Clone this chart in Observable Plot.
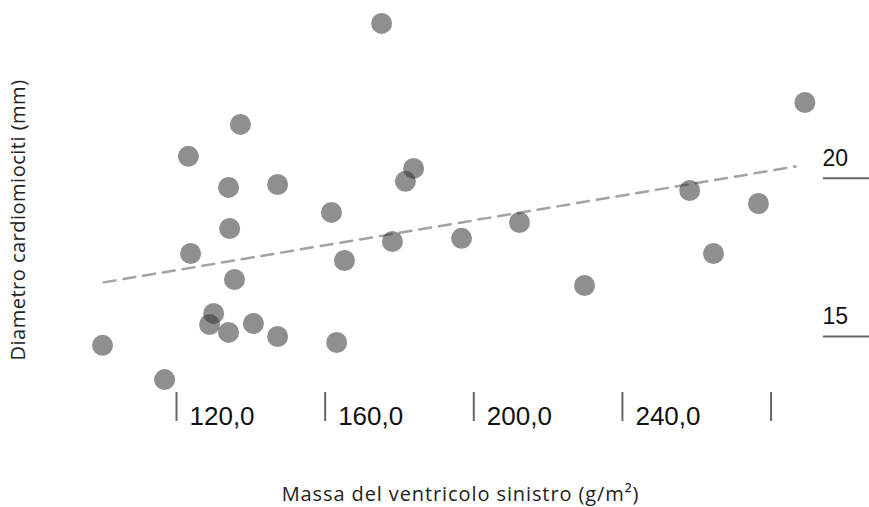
<!DOCTYPE html>
<html>
<head>
<meta charset="utf-8">
<script src="https://cdn.jsdelivr.net/npm/d3@7"></script>
<script src="https://cdn.jsdelivr.net/npm/@observablehq/plot@0.6"></script>
<style>
  html, body { margin: 0; padding: 0; background: #fff; }
  #chart { width: 869px; height: 507px; }
</style>
</head>
<body>
<div id="chart"></div>
<script>
// Data
const massX = [100.1, 116.8, 123.2, 123.8, 128.9, 130.0, 134.0, 134.0, 134.3, 135.6, 137.2, 140.7, 147.2, 147.2,
               161.7, 163.1, 165.2, 175.2, 178.1, 181.6, 183.8, 196.7, 212.3, 229.8, 258.1, 264.5, 276.6, 289.1];
const diamY = [14.72, 13.64, 20.69, 17.62, 15.38, 15.73, 15.13, 19.71, 18.41, 16.80, 21.70, 15.41, 19.80, 15.00,
               18.92, 14.81, 17.40, 24.89, 18.00, 19.90, 20.31, 18.10, 18.60, 16.61, 19.61, 17.62, 19.20, 22.39];
const trendX = [100.4, 286.6];
const trendY = [16.71, 20.37];
const xTicks = [120, 160, 200, 240, 280];
const xTickLabels = ["120,0", "160,0", "200,0", "240,0", ""];
const yTicks = [15, 20];
const yTickLabels = ["15", "20"];
const xTitle = "Massa del ventricolo sinistro (g/m²)";
const yTitle = "Diametro cardiomiociti (mm)";

const points = massX.map((x, i) => ({x, y: diamY[i]}));
const trend = trendX.map((x, i) => ({x, y: trendY[i]}));

const chart = Plot.plot({
  width: 869,
  height: 507,
  marginLeft: 40,
  marginRight: 47,
  marginTop: 5,
  marginBottom: 115,
  style: {fontFamily: "'Liberation Sans', Arial, sans-serif", background: "#fff"},
  x: {domain: [83.40, 293.84]},
  y: {domain: [13.231, 25.455]},
  marks: [
    // x tick lines
    Plot.axisX({
      ticks: xTicks,
      tickFormat: () => "",
      tickSize: 29,
      stroke: "#666",
      strokeWidth: 2,
      label: null
    }),
    // x tick labels
    Plot.axisX({
      ticks: xTicks,
      tickFormat: d => xTickLabels[xTicks.indexOf(d)],
      tickSize: 0,
      tickPadding: 14.5,
      textAnchor: "start",
      dx: 13,
      fontSize: 26,
      color: "#111",
      label: null
    }),
    // y tick lines (right side)
    Plot.axisY({
      anchor: "right",
      ticks: yTicks,
      tickFormat: () => "",
      tickSize: 47,
      stroke: "#666",
      strokeWidth: 2,
      label: null
    }),
    // y tick labels above the lines
    Plot.axisY({
      anchor: "right",
      ticks: yTicks,
      tickFormat: d => yTickLabels[yTicks.indexOf(d)],
      tickSize: 0,
      tickPadding: 0,
      textAnchor: "start",
      dy: -20,
      fontSize: 23,
      color: "#111",
      label: null
    }),
    Plot.line(trend, {x: "x", y: "y", stroke: "#333", strokeOpacity: 0.45, strokeWidth: 2.5, strokeDasharray: "12,8"}),
    Plot.dot(points, {x: "x", y: "y", r: 10.5, fill: "#333", fillOpacity: 0.55, stroke: null}),
    Plot.text([xTitle], {frameAnchor: "bottom", text: d => d, textAnchor: "middle", lineAnchor: "middle",
      dx: 29, dy: 101.6, fontSize: 20, fontFamily: "'Open Sans', sans-serif", fill: "#222"}),
    Plot.text([yTitle], {frameAnchor: "left", text: d => d, textAnchor: "middle", lineAnchor: "middle",
      rotate: -90, dx: -22, dy: 21, fontSize: 20, fontFamily: "'Open Sans', sans-serif", fill: "#222"})
  ]
});
// slight tracking on the titles to match the reference widths
chart.querySelectorAll("text").forEach(t => {
  if (t.textContent === xTitle) t.style.letterSpacing = "0.9px";
  if (t.textContent === yTitle) t.style.letterSpacing = "0.5px";
});
document.getElementById("chart").appendChild(chart);
</script>
</body>
</html>
